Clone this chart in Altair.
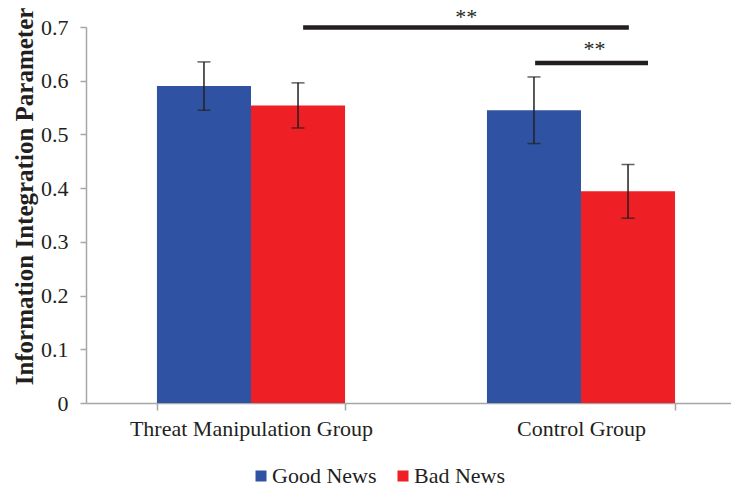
import altair as alt
import pandas as pd

groups = ["Threat Manipulation Group", "Control Group"]
news = ["Good News", "Bad News"]
means = [0.590, 0.554, 0.545, 0.394]
errs = [0.045, 0.042, 0.062, 0.050]
colors = ["#2F52A2", "#EE1F25"]

sig_x1 = [0.658, 1.361]
sig_x2 = [1.645, 1.703]
sig_y = [0.699, 0.633]
star_x = [1.152, 1.541]
star_y = [0.706, 0.646]
star_text = ["**", "**"]

FONT = "Liberation Serif"
INK = "#231F20"
AX = "#A6A6A6"

rows = []
i = 0
for g in groups:
    for n in news:
        rows.append({"group": g, "news": n, "mean": means[i],
                     "lo": means[i] - errs[i], "hi": means[i] + errs[i]})
        i += 1
df = pd.DataFrame(rows)
sig = pd.DataFrame({"x1": sig_x1, "x2": sig_x2, "y": sig_y})
stars = pd.DataFrame({"x": star_x, "y": star_y, "t": star_text})

# the x axis runs on past the right edge of the picture, as in the reference
XRANGE = [0, 660]

yscale = alt.Scale(domain=[0, 0.7], nice=False)
xband = alt.Scale(paddingInner=0.43, paddingOuter=0.215, range=XRANGE)
xenc = alt.X("group:N", sort=groups, scale=xband,
             axis=alt.Axis(title=None, labelAngle=0, labelFont=FONT, labelFontSize=22,
                           labelColor=INK, tickBand="extent", tickSize=7, labelLimit=0,
                           tickColor=AX, domainColor=AX,
                           labelPadding=8, domainWidth=1.5, tickWidth=1.5))
xoff = alt.XOffset("news:N", sort=news, scale=alt.Scale(paddingInner=0, paddingOuter=0))

bars = alt.Chart(df).mark_bar(strokeWidth=0).encode(
    x=xenc,
    xOffset=xoff,
    y=alt.Y("mean:Q", scale=yscale,
            axis=alt.Axis(title="Information Integration Parameter", format=".1~f",
                          values=[0, 0.1, 0.2, 0.3, 0.4, 0.5, 0.6, 0.7],
                          grid=False, labelFont=FONT, labelFontSize=22, labelColor=INK,
                          tickSize=6, tickColor=AX, domainColor=AX,
                          domainWidth=1.5, tickWidth=1.5, labelPadding=12,
                          titleFont=FONT, titleFontSize=25, titleFontWeight="bold",
                          titleColor=INK, titleX=-62, titleY=169, titleAngle=-90,
                          titleAlign="center", titleBaseline="middle")),
    color=alt.Color("news:N", sort=news, scale=alt.Scale(domain=news, range=colors),
                    legend=alt.Legend(title=None, orient="none", legendX=164, legendY=438,
                                      direction="horizontal", symbolType="square",
                                      symbolSize=121, symbolStrokeWidth=0,
                                      labelFont=FONT, labelFontSize=22, labelColor=INK,
                                      labelOffset=0, columnPadding=15)),
)

ebar = alt.Chart(df).mark_rule(color=INK, strokeWidth=1.5).encode(
    x=alt.X("group:N", sort=groups),
    xOffset=xoff,
    y=alt.Y("lo:Q", scale=yscale),
    y2="hi:Q",
)
cap_hi = alt.Chart(df).mark_tick(color=INK, size=13, thickness=1.5, orient="horizontal").encode(
    x=alt.X("group:N", sort=groups), xOffset=xoff, y=alt.Y("hi:Q", scale=yscale))
cap_lo = alt.Chart(df).mark_tick(color=INK, size=13, thickness=1.5, orient="horizontal").encode(
    x=alt.X("group:N", sort=groups), xOffset=xoff, y=alt.Y("lo:Q", scale=yscale))

base_layer = alt.layer(bars, ebar, cap_hi, cap_lo)

xq = alt.Scale(domain=[0, 2], nice=False, zero=False, range=XRANGE)
lines = alt.Chart(sig).mark_rule(color=INK, strokeWidth=4.5, strokeCap="butt").encode(
    x=alt.X("x1:Q", scale=xq, axis=None),
    x2="x2:Q",
    y=alt.Y("y:Q", scale=yscale),
)
star_marks = alt.Chart(stars).mark_text(font=FONT, fontSize=22, color=INK,
                                        baseline="alphabetic", align="center").encode(
    x=alt.X("x:Q", scale=xq, axis=None),
    y=alt.Y("y:Q", scale=yscale),
    text="t:N",
)
annot = alt.layer(lines, star_marks)

chart = alt.layer(base_layer, annot).resolve_scale(x="independent").properties(
    width=645, height=376,
    autosize=alt.AutoSizeParams(type="none"),
    padding={"left": 78, "top": 19, "right": 0, "bottom": 82},
).configure_view(stroke=None)

chart.save("out.html", embed_options={"renderer": "svg", "actions": False})
